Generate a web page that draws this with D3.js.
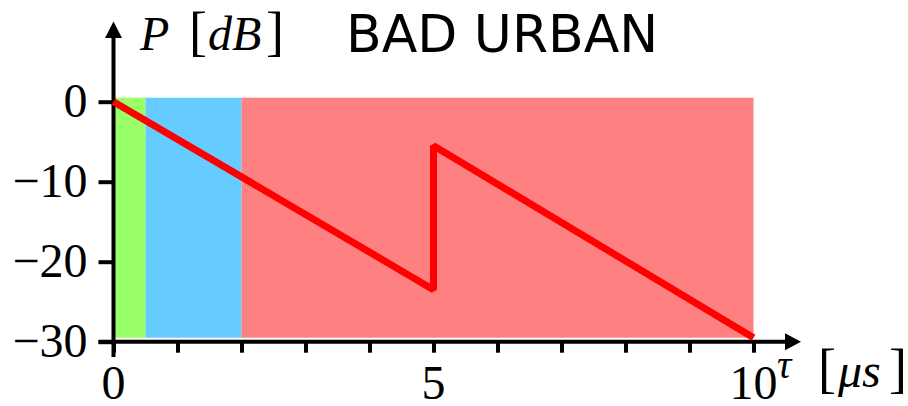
<!DOCTYPE html>
<html><head><meta charset="utf-8">
<script src="https://cdn.jsdelivr.net/npm/d3@7"></script>
<style>
html,body{margin:0;padding:0;background:#fff;}
svg{display:block;}
</style></head>
<body>
<svg id="c" width="908" height="406"></svg>
<script>
// ---- data ----
const title = "BAD URBAN";
const regionStarts = [0, 0.5, 2];
const regionEnds   = [0.5, 2, 10];
const regionColors = ["#99ff66", "#66ccff", "#ff8080"];
const regionTop = 0.5, regionBottom = -29.5;
const profileX = [0, 5, 5, 10];
const profileY = [0, -23.5, -5.5, -29.5];
const xTicks = [0,1,2,3,4,5,6,7,8,9,10];
const xLabels = [0, 5, 10];
const yTicks = [0, -10, -20, -30];

const svg = d3.select("#c");
const x = d3.scaleLinear().domain([0, 10]).range([113.5, 753.5]);
const y = d3.scaleLinear().domain([0, -30]).range([101.7, 341.7]);
const serif = "'Liberation Serif','Times New Roman',serif";

// regions
svg.append("g").selectAll("rect").data(regionStarts).join("rect")
  .attr("x", (d) => x(d))
  .attr("width", (d,i) => x(regionEnds[i]) - x(d))
  .attr("y", y(regionTop))
  .attr("height", y(regionBottom) - y(regionTop))
  .attr("fill", (d,i) => regionColors[i]);

// y axis ticks + labels
const yAx = svg.append("g").attr("transform", `translate(${x(0)},0)`)
  .call(d3.axisLeft(y).tickValues(yTicks).tickSize(15).tickPadding(11).tickFormat(d3.format("d")));
yAx.select(".domain").remove();
yAx.selectAll("line").attr("stroke", "#000").attr("stroke-width", 4);
yAx.selectAll("text").attr("font-family", serif).attr("font-size", 48).attr("fill", "#000")
  .attr("dy", "0.3em");

// x axis ticks
const xAx = svg.append("g").attr("transform", `translate(0,${y(-30)})`)
  .call(d3.axisBottom(x).tickValues(xTicks).tickSize(11).tickFormat(""));
xAx.select(".domain").remove();
xAx.selectAll("line").attr("stroke", "#000").attr("stroke-width", 4);

svg.append("g").selectAll("text").data(xLabels).join("text")
  .attr("x", (d) => x(d)).attr("y", 399)
  .attr("text-anchor", "middle")
  .attr("font-family", serif).attr("font-size", 48)
  .text((d) => d);

// axis lines with arrows
svg.append("line").attr("x1", x(0)).attr("x2", x(0)).attr("y1", 357).attr("y2", 36)
  .attr("stroke", "#000").attr("stroke-width", 4);
svg.append("path").attr("d", `M${x(0)},21.5 L${x(0)-8.5},38 L${x(0)+8.5},38 Z`).attr("fill", "#000");
svg.append("line").attr("x1", x(0) - 15).attr("x2", 788).attr("y1", y(-30)).attr("y2", y(-30))
  .attr("stroke", "#000").attr("stroke-width", 4);
svg.append("path").attr("d", `M801,${y(-30)} L785,${y(-30)-8.5} L785,${y(-30)+8.5} Z`).attr("fill", "#000");

// profile line
const line = d3.line().x((d) => x(d[0])).y((d) => y(d[1]));
svg.append("path").datum(profileX.map((v,i) => [v, profileY[i]]))
  .attr("d", line).attr("fill", "none").attr("stroke", "#ff0000")
  .attr("stroke-width", 7).attr("stroke-linejoin", "miter").attr("stroke-miterlimit", 2);

// axis titles
const yt = svg.append("text").attr("y", 50).attr("font-family", serif).attr("fill", "#000");
yt.append("tspan").attr("x", 140).attr("font-size", 48).attr("font-style", "italic").text("P");
yt.append("tspan").attr("x", 189).attr("font-size", 54).text("[");
yt.append("tspan").attr("x", 208).attr("font-size", 48).attr("font-style", "italic").text("dB");
yt.append("tspan").attr("x", 266).attr("font-size", 54).text("]");

svg.append("text").attr("x", 777).attr("y", 378).attr("font-family", serif)
  .attr("font-size", 40).attr("font-style", "italic").text("τ");
const xt = svg.append("text").attr("y", 387).attr("font-family", serif).attr("fill", "#000");
xt.append("tspan").attr("x", 818).attr("font-size", 54).text("[");
xt.append("tspan").attr("x", 838).attr("font-size", 48).attr("font-style", "italic").text("μs");
xt.append("tspan").attr("x", 889).attr("font-size", 54).text("]");

// title
svg.append("text").attr("x", 346).attr("y", 52)
  .attr("font-family", "'DejaVu Sans',sans-serif").attr("font-size", 52).text(title);
</script>
</body></html>
